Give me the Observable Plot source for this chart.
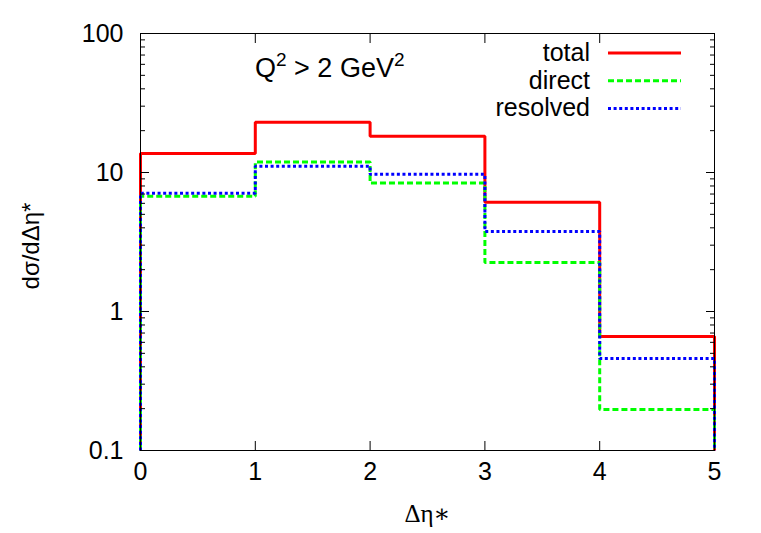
<!DOCTYPE html>
<html><head><meta charset="utf-8">
<script src="https://cdn.jsdelivr.net/npm/d3@7"></script>
<script src="https://cdn.jsdelivr.net/npm/@observablehq/plot@0.6"></script>
<style>body{margin:0;background:#fff} #chart{width:761px;height:533px}</style>
</head><body><div id="chart"></div>
<script>
// ---- data ----
const binEdges = [0, 1, 2, 3, 4, 5];
const total = [13.7, 23.0, 18.2, 6.1, 0.66];
const direct = [6.75, 11.9, 8.4, 2.25, 0.197];
const resolved = [7.1, 11.1, 9.7, 3.76, 0.46];
const seriesNames = ["total", "direct", "resolved"];
const seriesColors = ["#ff0000", "#00ff00", "#0000ff"];
const seriesDash = [null, "6,3", "3,2.6"];
const xTicks = [0, 1, 2, 3, 4, 5];
const xTickLabels = ["0", "1", "2", "3", "4", "5"];
const yTicks = [0.1, 1, 10, 100];
const yTickLabels = ["0.1", "1", "10", "100"];
const yMinorTicks = [0.2,0.3,0.4,0.5,0.6,0.7,0.8,0.9, 2,3,4,5,6,7,8,9, 20,30,40,50,60,70,80,90];
const yFloor = 0.1;
const titleParts = ["Q", "2", " > 2 GeV", "2"];
const xLabel = "Δη∗";
const yLabel = "dσ/dΔη*";

const font = "'Liberation Sans', Arial, Helvetica, sans-serif";

function steps(name, vals) {
  const pts = [{s: name, x: binEdges[0], y: yFloor}];
  vals.forEach((v, i) => pts.push({s: name, x: binEdges[i], y: v}));
  pts.push({s: name, x: binEdges[binEdges.length - 1], y: vals[vals.length - 1]});
  pts.push({s: name, x: binEdges[binEdges.length - 1], y: yFloor});
  return pts;
}
const seriesVals = [total, direct, resolved];
const lineMarks = seriesNames.map((n, i) =>
  Plot.line(steps(n, seriesVals[i]), {
    x: "x", y: "y", curve: "step-after",
    stroke: seriesColors[i], strokeWidth: 3,
    strokeDasharray: seriesDash[i] || undefined,
    strokeLinejoin: "miter", strokeLinecap: "butt"
  })
);
const empty = () => "";

const plot = Plot.plot({
  width: 761, height: 533,
  marginLeft: 140, marginRight: 47, marginTop: 33, marginBottom: 83,
  style: {fontFamily: font, fontSize: "24px", background: "white", color: "black", overflow: "visible"},
  x: {domain: [0, 5]},
  y: {type: "log", domain: [0.1, 100]},
  marks: [
    ...lineMarks,
    Plot.frame({stroke: "black", strokeWidth: 1}),
    Plot.axisX({ticks: xTicks, tickSize: -9, tickFormat: empty, label: null}),
    Plot.axisX({anchor: "top", ticks: xTicks, tickSize: -9, tickFormat: empty, label: null}),
    Plot.axisY({ticks: yTicks, tickSize: -9, tickFormat: empty, label: null}),
    Plot.axisY({ticks: yMinorTicks, tickSize: -5, tickFormat: empty, label: null}),
    Plot.axisY({anchor: "right", ticks: yTicks, tickSize: -9, tickFormat: empty, label: null}),
    Plot.axisY({anchor: "right", ticks: yMinorTicks, tickSize: -5, tickFormat: empty, label: null}),
    Plot.text(xTicks, {x: d => d, text: (d, i) => xTickLabels[i], frameAnchor: "bottom", dy: 29, fontSize: 25, fontFamily: font}),
    Plot.text(yTicks, {y: d => d, text: (d, i) => yTickLabels[i], frameAnchor: "left", dx: -17, textAnchor: "end", fontSize: 25, fontFamily: font}),
    Plot.text([xLabel], {frameAnchor: "bottom", dy: 71, fontFamily: "'Liberation Serif', 'DejaVu Serif', serif", fontSize: 25}),
    Plot.text([yLabel], {frameAnchor: "left", dx: -109, dy: 4, rotate: -90, textAnchor: "middle", fontSize: 24, fontFamily: font})
  ]
});
document.getElementById("chart").appendChild(plot);

// title & legend overlay inside the frame
const svg = d3.select(plot);
const t = svg.append("text").attr("x", 255).attr("y", 77).attr("text-anchor", "start")
  .attr("font-family", font).attr("font-size", 27).attr("fill", "black");
t.append("tspan").text(titleParts[0]);
t.append("tspan").attr("dy", -11).attr("font-size", 19).text(titleParts[1]);
t.append("tspan").attr("dy", 11).text(titleParts[2]);
t.append("tspan").attr("dy", -11).attr("font-size", 19).text(titleParts[3]);

const legend = svg.append("g");
seriesNames.forEach((n, i) => {
  const y = 53 + i * 27.7;
  legend.append("text").attr("x", 590).attr("y", y + 8).attr("text-anchor", "end")
    .attr("font-family", font).attr("font-size", 25).attr("fill", "black").text(n);
  legend.append("line").attr("x1", 608).attr("x2", 681).attr("y1", y).attr("y2", y)
    .attr("stroke", seriesColors[i]).attr("stroke-width", 3)
    .attr("stroke-dasharray", seriesDash[i]);
});
</script></body></html>
